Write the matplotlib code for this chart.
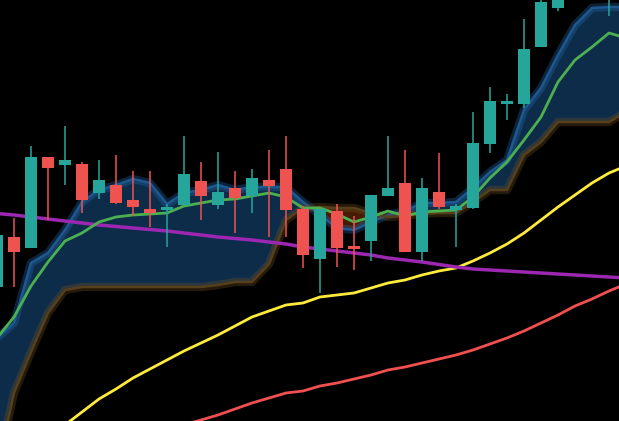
import numpy as np
import matplotlib
matplotlib.use("Agg")
import matplotlib.pyplot as plt

abre   = [287, 237, 248, 157, 165, 164, 193, 185, 200, 209, 210, 205, 181, 205, 188, 196, 180, 169, 209, 259,
          211, 246, 241, 196, 183, 252, 192, 210, 208, 144, 104, 104, 47, 8, -20, -30, -5]
maximo = [230, 218, 146, 157, 126, 162, 160, 155, 171, 171, 204, 136, 162, 152, 171, 169, 150, 136, 206, 209,
          204, 216, 195, 136, 150, 178, 153, 204, 112, 87, 94, 19, -10, -40, -70, -80, -50]
minimo = [287, 287, 248, 220, 185, 213, 199, 204, 216, 227, 247, 205, 220, 209, 233, 213, 237, 237, 268, 293,
          267, 270, 261, 196, 252, 261, 209, 247, 209, 153, 120, 108, 47, 11, -20, -30, 16]
cierre = [235, 252, 157, 168, 160, 200, 180, 203, 207, 213, 207, 174, 196, 192, 198, 178, 186, 210, 255, 209,
          248, 248, 195, 188, 252, 188, 207, 206, 143, 101, 101, 49, 2, -30, -60, -70, -40]

# lineas (38 puntos, uno por vela mas uno extra)
tenkan = [338, 317, 286, 262, 241, 233, 222, 217, 215, 214, 213, 206, 203, 200, 199, 196, 193, 197, 208, 208,
          214, 222, 217, 211, 216, 212, 211, 210, 197, 178, 162, 140, 117, 82, 60, 47, 33, 38]
senkou_a = [338, 323, 263, 253, 230, 202, 190, 185, 179, 183, 204, 193, 190, 185, 190, 187, 187, 187, 202, 215,
            228, 230, 222, 215, 211, 203, 203, 202, 188, 172, 160, 110, 88, 55, 25, 8, 7, 7]
senkou_b = [470, 393, 352, 313, 290, 287, 287, 287, 287, 287, 287, 287, 287, 285, 282, 282, 264, 220, 208, 207,
            208, 208, 213, 217, 216, 214, 213, 213, 202, 190, 190, 155, 142, 122, 122, 122, 122, 112]
media_amarilla = [477, 464, 451, 438, 425, 412, 399, 389, 378, 369, 360, 351, 343, 335, 326, 317, 311, 305, 303, 297,
                  295, 293, 288, 283, 280, 275, 271, 268, 261, 253, 244, 233, 220, 207, 195, 183, 173, 166]
media_roja = [480, 475, 470, 465, 460, 455, 450, 445, 440, 435, 430, 425, 420, 415, 409, 403, 398, 393, 391, 386,
              383, 379, 375, 370, 367, 363, 359, 355, 350, 344, 338, 331, 323, 315, 306, 299, 291, 284]
media_morada = [213.5, 215, 217, 219, 221, 223, 225, 226.5, 228, 229.5, 231, 233, 235, 237, 238.5, 240, 242, 244,
                247, 249, 251, 253, 255, 258, 260, 262, 264.5, 267, 269, 270, 271, 272, 273, 274, 275, 276, 277, 278]

VERDE = "#26a69a"
ROJO = "#ef5350"

fig = plt.figure(figsize=(6.19, 4.21), dpi=100, facecolor="black")
ax = fig.add_axes([0, 0, 1, 1])
ax.set_facecolor("black")

x = np.arange(len(tenkan))
a = np.array(senkou_a, dtype=float)
b = np.array(senkou_b, dtype=float)

#NUBE
ax.fill_between(x, a, b, where=a <= b, interpolate=True, color="#0c2c4a", lw=0, zorder=1)
ax.fill_between(x, a, b, where=a > b, interpolate=True, color="#461a04", lw=0, zorder=1)
ax.plot(x, a, color="#2466a6", lw=6, alpha=0.35, zorder=2, solid_capstyle="round")
ax.plot(x, a, color="#1d5890", lw=1.8, zorder=2)
ax.plot(x, b, color="#6e4c1e", lw=6, alpha=0.35, zorder=2, solid_capstyle="round")
ax.plot(x, b, color="#56401c", lw=1.8, zorder=2)

#LINEAS
ax.plot(x, media_roja, color="#f25050", lw=2, zorder=3)
ax.plot(x, media_amarilla, color="#ffeb3b", lw=2, zorder=3)
ax.plot(x, media_morada, color="#9c27b0", lw=2.5, zorder=3)
ax.plot(x, tenkan, color="#4caf50", lw=2, zorder=3)

#VELAS
ancho = 0.76
for i in range(len(abre)):
    sube = cierre[i] < abre[i] or (cierre[i] == abre[i])
    col = VERDE if sube else ROJO
    if i in (10, 27, 30):
        col = VERDE
    ax.vlines(i, maximo[i], minimo[i], color=col, lw=1.1, zorder=4)
    arriba = min(abre[i], cierre[i])
    alto = max(abs(abre[i] - cierre[i]), 2.5)
    ax.add_patch(plt.Rectangle((i - ancho / 2, arriba), ancho, alto, color=col, lw=0, zorder=5))

ax.set_xlim(3 / 17, 622 / 17)
ax.set_ylim(421, 0)
ax.axis("off")

plt.savefig("out.png", dpi=100, facecolor="black")
